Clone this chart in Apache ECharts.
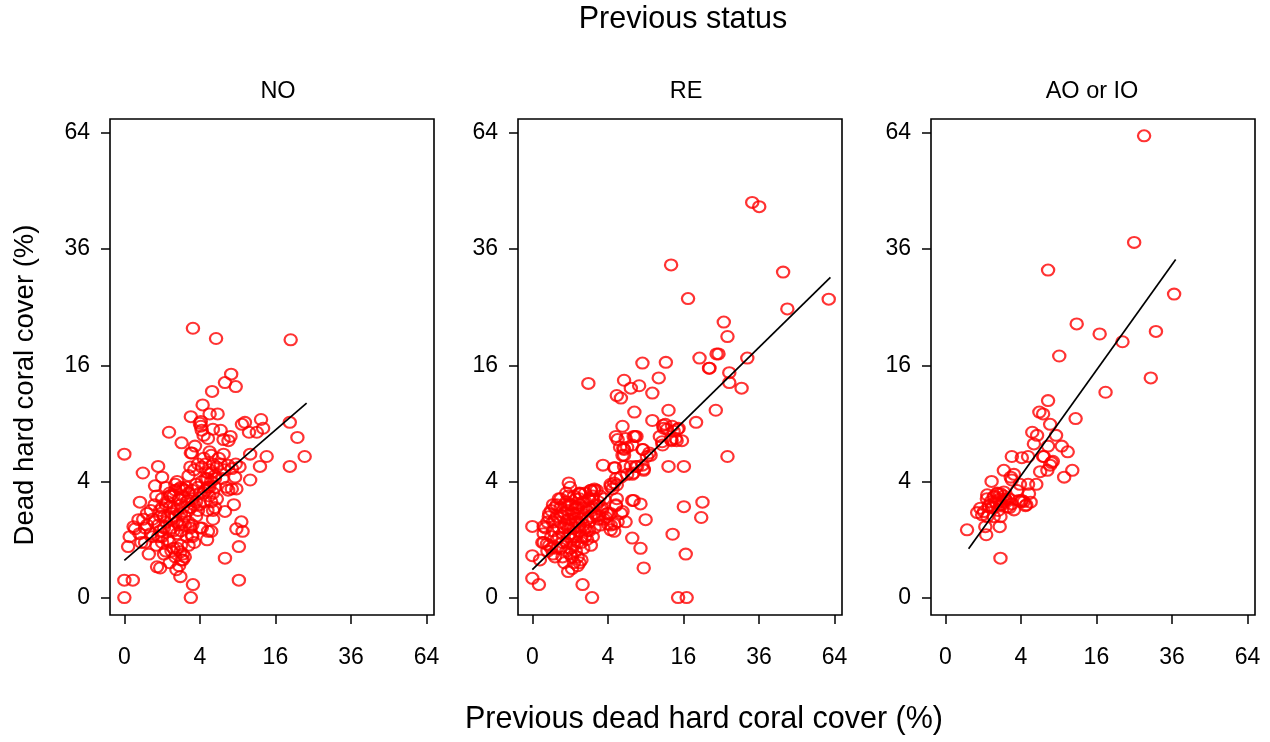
<!DOCTYPE html>
<html><head><meta charset="utf-8">
<script src="https://cdn.jsdelivr.net/npm/echarts@6/dist/echarts.min.js"></script>
<style>html,body{margin:0;padding:0;background:#fff}#c{width:1270px;height:742px}</style>
</head><body><div id="c"></div>
<script>
// Data: [previous dead hard coral cover %, dead hard coral cover %]
const panelTitles = ['NO', 'RE', 'AO or IO'];
const tickValues = [0, 4, 16, 36, 64];

const noPoints = [
[3.3,21.5],[5.9,19.9],[19.4,19.7],[8.0,14.8],[7.1,13.7],[8.7,13.2],[5.4,12.6],[4.3,11.0],[3.1,9.7],[5.1,10.0],[6.1,10.0],[4.1,9.2],[4.1,8.7],[1.4,8.1],[2.3,7.1],[3.5,6.8],[3.1,6.2],[5.5,8.4],[6.5,8.3],[4.4,7.8],[4.9,7.5],[6.9,7.4],[7.9,7.7],[7.6,7.3],[9.7,8.9],[10.2,9.1],[13.1,9.4],[13.5,8.5],[10.9,8.1],[12.3,8.1],[19.2,9.1],[21.0,7.6],[0,6.1],[11.1,6.1],[14.2,5.9],[22.8,5.9],[5.1,6.3],[6.9,6.1],[3.2,6.2],[19.2,5.1],[12.9,5.1],[11.1,4.1],[0.8,5.1],[0.24,4.6],[1.0,4.3],[0.66,3.7],[2.4,3.5],[1.5,3.1],[7.1,2.2],[9.6,1.7],[8.8,1.4],[9.8,1.3],[9.2,0.77],[7.1,0.46],[9.2,0.09],[0,0.09],[0.05,0.09],[0,0],[3.1,0],[3.3,0.05],[2.2,0.13],[2.3,0.42],[0.9,0.26],[4.0,1.44],[4.9,1.3],[5.3,1.3],[3.2,1.17],[4.8,0.99],[0.02,1.1],[0.01,0.77],[0.08,1.4],[0.17,2.7],[0.14,1.8],[8.1,3.5],[8.8,3.5],[8.6,4.3],[4.0,9.0],[4.2,8.3],[2.1,3.5],[2.86,2.8],[1.46,3.06],[0.06,1.49],[2.2,0.62],[2.4,0.42],[1.9,0.23],[0.75,0.28],
[0.2,0.9],[0.3,1.44],[0.36,2.1],[0.49,1.21],[0.56,1.82],[0.64,2.56],[0.72,0.81],[0.81,1.56],[0.9,2.25],[1.0,1.1],[1.0,2.9],[1.1,0.56],[1.21,1.69],[1.21,3.6],[1.32,1.0],[1.44,2.4],[1.44,0.36],[1.56,1.44],[1.69,3.06],[1.69,0.72],[1.82,1.96],[1.96,4.0],[1.96,1.21],[2.1,0.3],[2.25,2.56],[2.25,0.81],[2.4,1.69],[2.56,3.42],[2.56,0.49],[2.72,1.1],[2.89,2.25],[2.89,4.41],[3.06,1.44],[3.24,2.89],[3.42,0.9],[3.61,1.96],[3.8,3.61],[4.0,2.56],[4.2,1.44],[4.41,3.24],[4.62,4.2],[4.84,2.25],[5.06,3.06],[5.29,4.0],[5.52,1.82],[5.76,3.61],[0.42,0.56],[0.25,1.82],[1.32,2.72],[1.82,3.42],[2.4,3.06],[1.56,2.1],[2.1,1.56],[1.1,1.96],[0.9,1.32],[2.56,1.96],[3.24,1.56],[2.89,3.24],[3.61,2.72],[1.44,0.9],[1.82,0.49],[2.25,1.32],
[3.06,5.06],[3.42,4.84],[3.8,5.29],[4.2,5.06],[4.62,5.29],[5.06,4.84],[5.52,5.29],[6.0,5.06],[6.5,5.29],[7.02,4.84],[7.56,5.2],[8.12,4.93],[8.7,5.29],[9.3,5.06],[4.84,4.2],[5.76,4.41],[6.76,4.2],[4.41,5.76],[5.29,6.0],[6.25,5.76],[4.84,3.61],[5.29,2.72],[5.52,2.25],[6.0,2.89],[5.76,2.4],[7.29,3.61],[7.56,3.42],[8.41,2.56],
[0.16,1.21],[0.3,0.9],[0.36,1.56],[0.49,2.25],[0.56,1.1],[0.64,1.69],[0.72,3.06],[0.81,1.1],[0.9,1.96],[1.0,2.4],[1.1,1.44],[1.21,2.56],[1.32,1.96],[1.44,1.32],[1.44,3.24],[1.56,1.82],[1.69,2.4],[1.69,1.32],[1.82,3.8],[1.96,2.25],[1.96,1.69],[2.1,2.89],[2.25,2.1],[2.25,3.61],[2.4,2.4],[2.56,1.56],[2.72,2.72],[2.72,3.61],[2.89,1.69],[3.06,2.4],[3.24,3.42],[3.42,2.56],[3.61,3.8],[3.8,2.25],[4.0,3.24],[4.2,4.0],[4.41,2.72],[4.62,3.42],[4.84,4.62],[5.06,3.61],[5.29,4.62],[5.52,3.24],[5.76,4.2],[1.0,0.9],[1.21,0.64],[1.56,0.64],[1.96,0.72],[2.4,0.56],[2.89,0.81],[3.24,1.1]
];

const rePoints = [
[33.9,46.3],[36.1,45.3],[13.5,32.8],[44.1,31.4],[17.0,26.5],[61.6,26.4],[45.6,24.7],[25.7,22.5],[26.7,20.2],[24.3,17.6],[19.6,17.0],[22.0,15.6],[32.4,17.0],[8.5,16.3],[12.5,16.4],[27.2,15.0],[5.9,14.0],[11.2,14.3],[2.2,13.6],[27.2,13.7],[30.7,13.0],[6.8,13.0],[8.0,13.3],[10.1,12.4],[5.0,12.1],[5.5,11.8],[7.3,10.2],[13.0,10.4],[23.6,10.4],[10.1,9.3],[18.8,9.1],[12.4,8.9],[12.1,8.5],[13.7,8.7],[14.8,8.4],[5.7,8.7],[4.9,7.7],[5.1,7.4],[7.2,7.7],[7.6,7.7],[6.1,7.5],[6.3,6.7],[11.4,7.7],[11.8,7.2],[13.5,7.4],[14.4,7.5],[15.7,7.3],[8.5,6.5],[9.8,6.0],[5.4,6.7],[5.9,6.5],[5.7,6.0],[26.7,5.9],[3.5,5.2],[4.7,5.0],[5.9,5.1],[6.8,5.1],[7.5,5.1],[8.5,5.2],[8.7,4.8],[6.3,4.5],[7.0,4.5],[7.2,4.6],[5.5,4.3],[13.0,5.1],[16.1,5.1],[4.9,4.2],[4.3,3.8],[4.5,3.5],[0.93,3.9],[5.0,2.9],[4.9,2.55],[7.0,2.8],[8.2,2.6],[7.2,2.8],[9.0,1.8],[7.0,1.05],[8.2,0.72],[8.7,0.26],[16.1,2.45],[20.3,2.7],[20.0,1.9],[13.8,1.19],[16.5,0.56],[14.9,0],[16.7,0],[2.5,0],[1.77,0.05],[0,1.5],[0,0.52],[0,0.11],[0.03,0.05],[0.04,0.42],[0.19,1.94],[0.09,1.5],[0.07,0.9],[0.15,0.85],[1.55,3.2],[2.4,3.4],[2.7,3.5],[3.1,2.0],[3.8,1.9],[4.0,1.6],[4.3,1.56],[4.7,1.6],[5.1,1.7],[5.5,2.1],[4.3,2.1],[4.9,2.5],[6.1,1.7],[4.3,1.36],[4.7,1.3],[4.7,3.9],[4.3,3.65],[5.0,3.76],[1.64,3.2],[2.66,3.4],[3.9,2.1],[5.7,2.2],[11.9,6.9],[12.0,8.8],[12.7,8.4],[14.0,8.2],[15.0,8.5],[14.6,7.3],[13.6,7.3],[7.4,7.7],[7.0,6.9],[5.8,6.6],[5.9,6.0],[8.6,6.5],[9.6,6.2],[9.2,5.9],[4.8,5.0],[7.7,5.1],[8.7,4.9],[23.8,17.6],[21.9,15.6],
[0.09,0.9],[0.12,1.44],[0.16,0.64],[0.2,2.1],[0.25,1.1],[0.3,1.69],[0.36,0.49],[0.36,2.4],[0.42,1.0],[0.49,1.44],[0.49,2.89],[0.56,0.72],[0.64,1.96],[0.64,1.21],[0.72,2.56],[0.72,0.36],[0.81,1.56],[0.81,0.9],[0.9,2.25],[0.9,3.06],[1.0,1.21],[1.0,1.82],[1.0,0.56],[1.1,2.56],[1.1,0.25],[1.21,1.44],[1.21,2.1],[1.21,0.81],[1.32,2.89],[1.32,1.1],[1.44,1.69],[1.44,2.4],[1.44,0.49],[1.56,3.24],[1.56,1.32],[1.69,2.1],[1.69,0.9],[1.82,2.72],[1.82,1.56],[1.96,3.24],[1.96,1.1],[2.1,2.25],[2.25,1.69],[2.25,2.89],[2.4,0.81],[2.56,2.4],[2.72,1.44],[2.89,1.96],[3.06,2.72],[3.24,1.56],[3.42,2.25],[0.25,0.72],[0.42,1.96],[0.56,2.4],[0.9,1.44],[1.1,1.0],[1.32,1.82],[1.56,2.56],[1.69,0.42],[2.1,1.32],[2.4,3.42],[1.0,3.61],[0.81,2.72],[1.21,0.36],[1.44,0.3],[0.9,0.2],[2.56,3.06],[2.89,3.42],[0.3,2.56],[3.61,2.89],[4.0,2.1],
[0.09,1.21],[0.16,1.69],[0.2,0.81],[0.25,2.25],[0.3,1.32],[0.36,1.82],[0.42,0.72],[0.42,2.56],[0.49,1.1],[0.56,1.69],[0.56,2.89],[0.64,0.9],[0.72,1.44],[0.72,2.1],[0.81,3.24],[0.9,1.1],[0.9,1.82],[1.0,2.56],[1.0,0.72],[1.1,1.56],[1.1,2.1],[1.21,1.1],[1.21,3.06],[1.32,1.69],[1.32,2.4],[1.44,0.9],[1.44,2.1],[1.56,1.56],[1.56,2.89],[1.69,1.1],[1.69,1.82],[1.82,2.4],[1.82,0.72],[1.96,1.44],[1.96,2.72],[2.1,1.82],[2.1,1.0],[2.25,2.4],[2.25,1.32],[2.4,1.96],[2.56,2.89],[2.56,1.1],[2.72,2.1],[2.89,2.56],[3.06,1.82],[3.24,3.06],[3.42,2.4],[3.61,1.82],[0.64,0.49],[0.81,0.64],[1.1,0.49],[1.32,0.64],[0.3,0.56],[1.56,0.36]
];

const aoPoints = [
[27.7,63.2],[25.0,37.4],[7.4,31.8],[36.7,27.3],[12.1,22.2],[16.7,20.6],[22.0,19.4],[31.1,21.0],[9.1,17.3],[29.6,14.3],[18.0,12.5],[7.4,11.5],[6.2,10.2],[6.7,10.0],[11.9,9.5],[7.7,8.9],[5.3,8.1],[5.9,7.8],[5.5,7.0],[8.6,7.8],[7.4,6.8],[9.5,6.8],[10.5,6.3],[6.7,5.9],[3.1,5.9],[4.1,5.8],[4.8,5.9],[7.9,5.4],[7.7,5.2],[6.3,4.7],[2.4,4.8],[11.3,4.8],[9.9,4.3],[3.3,4.5],[3.1,4.1],[3.0,4.3],[1.5,4.0],[3.9,3.8],[4.8,3.8],[5.8,3.8],[3.6,3.4],[4.9,3.2],[4.1,2.8],[5.1,2.7],[4.5,2.5],[1.23,3.13],[1.64,3.0],[1.88,3.2],[2.13,3.2],[2.4,3.06],[2.8,2.9],[3.1,2.6],[3.3,2.28],[2.7,2.45],[2.13,2.55],[1.76,2.73],[1.53,2.45],[1.32,2.45],[1.04,2.19],[0.71,2.14],[0.95,2.03],[1.23,1.94],[1.64,1.94],[2.13,1.94],[2.07,1.49],[1.12,1.49],[1.17,1.17],[2.13,0.46],[0.33,1.36],[0.86,2.37],[2.4,2.73],[3.8,2.8],[4.3,2.73],[6.8,5.9],[8.1,5.5],[7.3,4.8],[4.0,2.73],[4.6,2.55],[2.5,2.9],[1.88,3.24],
[1.21,2.89],[1.44,2.72],[1.69,3.06],[1.82,2.62],[2.1,2.89],[2.25,2.56],[2.4,3.31],[1.56,2.4],[1.96,2.25],[2.56,2.82],[1.32,2.5],[2.89,2.4]
];

// Fitted lines (on the square-root scale), endpoints in %
const noFit = [[0, 0.41], [23.3, 11.2]];
const reFit = [[0, 0.23], [62.3, 30.4]];
const aoFit = [[0.38, 0.71], [37.2, 33.9]];

const panels = [noPoints, rePoints, aoPoints];
const fits = [noFit, reFit, aoFit];

const sq = p => [Math.sqrt(p[0]), Math.sqrt(p[1])];
const FONT = 'Liberation Sans, Arial, sans-serif';
const lefts = [110, 518, 931];
const titleX = [278, 686, 1092];
// open ring marker (transparent centre, like R's pch = 1)
const RING = 'path://M0,-10A10,10 0 1 1 0,10A10,10 0 1 1 0,-10ZM0,-6.9A6.9,6.9 0 1 0 0,6.9A6.9,6.9 0 1 0 0,-6.9Z';

const chart = echarts.init(document.getElementById('c'));
const grid = [], xAxis = [], yAxis = [], series = [], graphic = [];
const tickS = tickValues.map(v => Math.sqrt(v));

lefts.forEach((l, i) => {
  grid.push({left: l, top: 119, width: 324, height: 496, show: true, borderColor: '#000', borderWidth: 1.6, backgroundColor: 'transparent'});
  const axisCommon = {
    type: 'value', gridIndex: i, splitLine: {show: false},
    axisLine: {show: false, onZero: false},
    axisTick: {show: true, inside: false, length: 9, lineStyle: {color: '#000', width: 1.5}, customValues: tickS},
    axisLabel: {customValues: tickS, color: '#000', fontSize: 23, fontFamily: FONT,
      formatter: v => String(Math.round(v * v))}
  };
  xAxis.push(Object.assign({}, axisCommon, {min: -0.38, max: 8.2, position: 'bottom',
    axisLabel: Object.assign({}, axisCommon.axisLabel, {margin: 31})}));
  yAxis.push(Object.assign({}, axisCommon, {min: -0.3, max: 8.24, position: 'left',
    axisLabel: Object.assign({}, axisCommon.axisLabel, {margin: 20})}));
  series.push({type: 'scatter', xAxisIndex: i, yAxisIndex: i, data: panels[i].map(sq),
    symbol: RING, symbolSize: [14.5, 13],
    itemStyle: {color: '#ff0000', borderWidth: 0}, silent: true});
  series.push({type: 'line', xAxisIndex: i, yAxisIndex: i, data: fits[i].map(sq),
    symbol: 'none', lineStyle: {color: '#000', width: 1.7}, silent: true, z: 3});
  graphic.push({type: 'text', x: titleX[i], y: 92, style: {text: panelTitles[i], fontSize: 23.5, fontFamily: FONT, fill: '#000', align: 'center', verticalAlign: 'middle'}});
});

graphic.push({type: 'text', x: 683, y: 20, style: {text: 'Previous status', fontSize: 30.5, fontFamily: FONT, fill: '#000', align: 'center', verticalAlign: 'middle'}});
graphic.push({type: 'text', x: 704, y: 720, style: {text: 'Previous dead hard coral cover (%)', fontSize: 30.5, fontFamily: FONT, fill: '#000', align: 'center', verticalAlign: 'middle'}});
graphic.push({type: 'text', x: 25, y: 385, rotation: Math.PI / 2, style: {text: 'Dead hard coral cover (%)', fontSize: 27.5, fontFamily: FONT, fill: '#000', align: 'center', verticalAlign: 'middle'}});

chart.setOption({animation: false, backgroundColor: '#fff', grid, xAxis, yAxis, series, graphic});
</script></body></html>
